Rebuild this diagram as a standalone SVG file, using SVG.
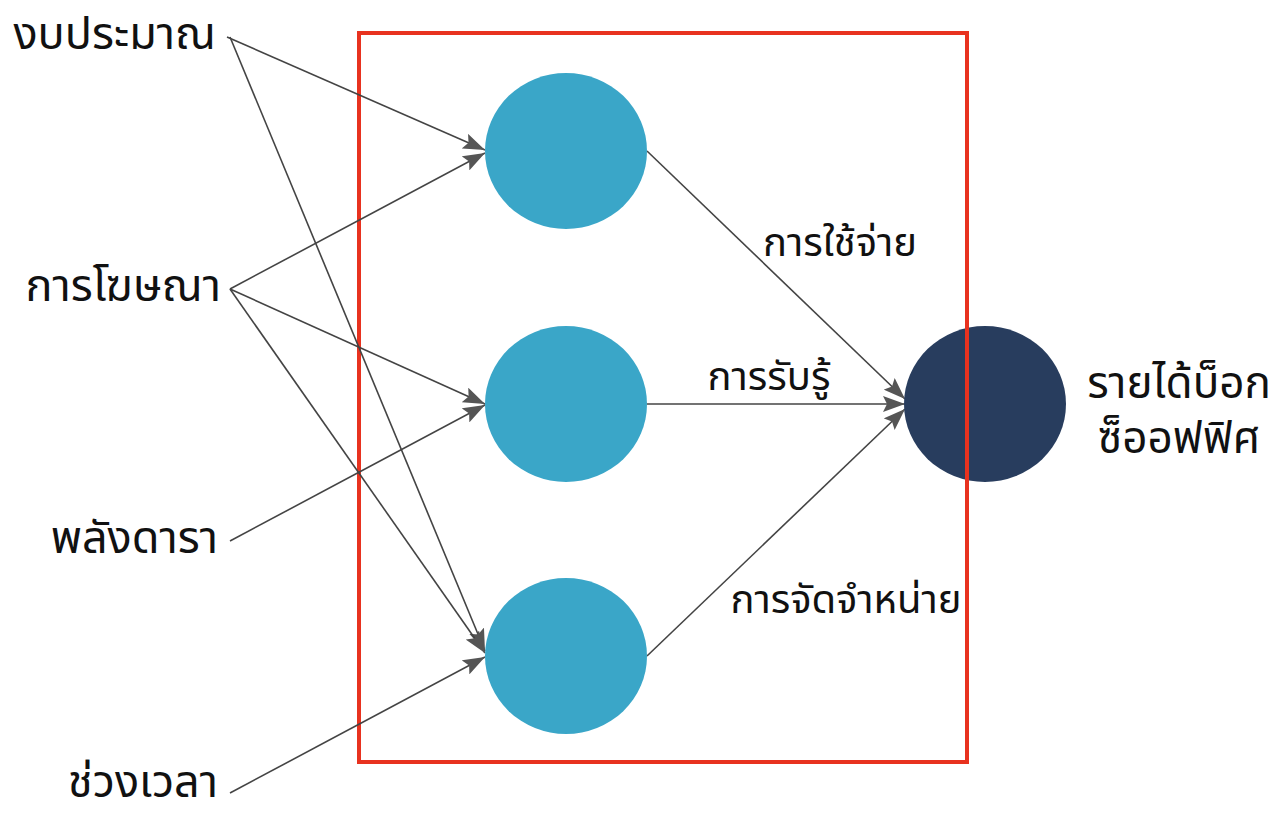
<svg xmlns="http://www.w3.org/2000/svg" width="1283" height="816" viewBox="0 0 1283 816">
<style>
text{font-family:"Noto Sans Thai","Loma","Garuda","Noto Sans","DejaVu Sans",sans-serif;fill:#111}
.big{font-size:45px}
.mid{font-size:40px}
.rt{font-size:44px}
.edge{stroke:#444;stroke-width:1.6;fill:none;marker-end:url(#arr)}
.hid{fill:#3aa6c8}
</style>
<defs>
<marker id="arr" markerUnits="userSpaceOnUse" markerWidth="24" markerHeight="16" refX="22" refY="8" orient="auto">
<path d="M0,0 L22,8 L0,16 L4,8 z" fill="#555"/>
</marker>
</defs>
<rect width="1283" height="816" fill="#fff"/>
<g id="frame"><rect x="359" y="33" width="608" height="729" fill="none" stroke="#e8321f" stroke-width="4"/></g>
<g id="connectors">
<line class="edge" x1="227" y1="37" x2="485" y2="150"/>
<line class="edge" x1="230" y1="37" x2="485" y2="651"/>
<line class="edge" x1="230" y1="289" x2="485" y2="153"/>
<line class="edge" x1="230" y1="289" x2="485" y2="404"/>
<line class="edge" x1="230" y1="289" x2="485" y2="653"/>
<line class="edge" x1="230" y1="541" x2="485" y2="405"/>
<line class="edge" x1="230" y1="793" x2="485" y2="657"/>
<line class="edge" x1="647" y1="151" x2="905" y2="399"/>
<line class="edge" x1="647" y1="404" x2="905" y2="404"/>
<line class="edge" x1="647" y1="656" x2="905" y2="409"/>
</g>
<g id="h1"><ellipse class="hid" cx="566" cy="151" rx="81" ry="78"/></g>
<g id="h2"><ellipse class="hid" cx="566" cy="404" rx="81" ry="78"/></g>
<g id="h3"><ellipse class="hid" cx="566" cy="656" rx="81" ry="78"/></g>
<g id="out"><ellipse cx="985" cy="404" rx="81" ry="78" fill="#283d5e"/>
<text class="rt" text-anchor="middle"><tspan x="1179" y="398">รายได้บ็อก</tspan><tspan x="1179" y="453">ซ็ออฟฟิศ</tspan></text></g>
<line x1="967" y1="326" x2="967" y2="482" stroke="#e8321f" stroke-width="4"/>
<g id="in1"><text class="big" x="216" y="49" text-anchor="end">งบประมาณ</text></g>
<g id="in2"><text class="big" x="221" y="301" text-anchor="end">การโฆษณา</text></g>
<g id="in3"><text class="big" x="218" y="553" text-anchor="end">พลังดารา</text></g>
<g id="in4"><text class="big" x="218" y="797" text-anchor="end">ช่วงเวลา</text></g>
<g id="labels">
<text class="mid" x="840" y="256" text-anchor="middle">การใช้จ่าย</text>
<text class="mid" x="769" y="390" text-anchor="middle">การรับรู้</text>
<text class="mid" x="846" y="613" text-anchor="middle">การจัดจำหน่าย</text>
</g>
</svg>
